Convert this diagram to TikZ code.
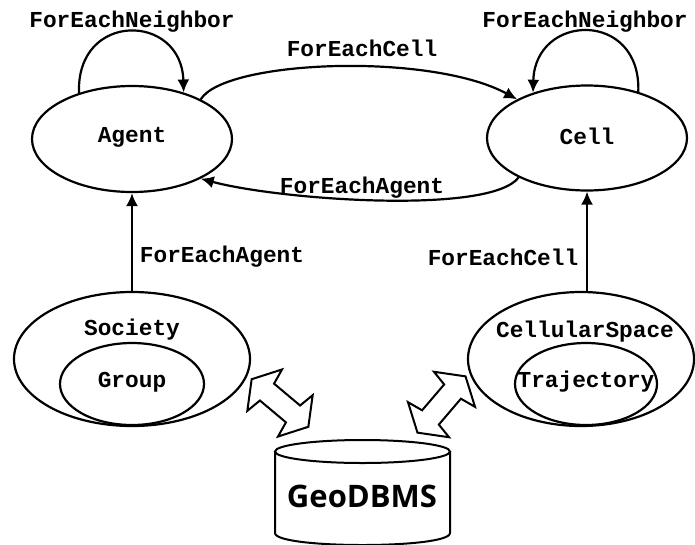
\documentclass[tikz,border=0pt]{standalone}
\usepackage{fontspec}
\setmonofont{Liberation Mono}
\newfontfamily\geofont{Open Sans}
\usetikzlibrary{shapes.geometric,arrows.meta}
\tikzset{
  lbl/.style={font=\ttfamily\bfseries\fontsize{22.8}{26}\selectfont, inner sep=0pt},
  ell/.style={ellipse, draw, line width=2.2pt, inner sep=0pt},
  conn/.style={line width=2.2pt, -{Latex[length=13pt,width=12pt]}},
  dblarrow/.style={draw, line width=2pt, fill=white, line join=miter},
}
\begin{document}
\begin{tikzpicture}[x=1pt,y=-1pt]
\useasboundingbox (0,0) rectangle (695,544);
\clip (0,0) rectangle (695,544);
\fill[white] (0,0) rectangle (695,544);
% main ellipses
\node[ell, minimum width=200pt, minimum height=106pt] (agent) at (132,139) {};
\node[lbl] (agentT) at (132,137) {Agent};
\node[ell, minimum width=200pt, minimum height=105pt] (cell) at (587,138) {};
\node[lbl] (cellT) at (587,136) {Cell};
\node[ell, minimum width=236pt, minimum height=134pt] (society) at (132,359) {};
\node[lbl] (societyT) at (132,330) {Society};
\node[ell, minimum width=144pt, minimum height=82pt] (group) at (132,384) {};
\node[lbl] (groupT) at (132,382) {Group};
\node[ell, minimum width=226pt, minimum height=134pt] (cspace) at (581,359) {};
\node[lbl] (cspaceT) at (585,332) {CellularSpace};
\node[ell, minimum width=142pt, minimum height=82pt] (traj) at (586,384) {};
\node[lbl] (trajT) at (586,382) {Trajectory};
% loops
\draw[conn] (agent.139) .. controls +(-3,-82) and +(-2,-80) .. (agent.42);
\node[lbl] (nbA) at (132,22) {ForEachNeighbor};
\draw[conn] (cell.42.6) .. controls +(3,-82) and +(2,-80) .. (cell.140);
\node[lbl] (nbC) at (585,22) {ForEachNeighbor};
% agent <-> cell
\draw[conn] (agent.30) .. controls (225,60) and (430,52) .. (cell.151);
\node[lbl] (fecTop) at (362,48) {ForEachCell};
\draw[conn] (cell.210) .. controls (490,215) and (280,200) .. (agent.330);
\node[lbl] (feaMid) at (362,188) {ForEachAgent};
% vertical
\draw[conn] (society.north) -- (agent.south);
\node[lbl] (feaV) at (222,257) {ForEachAgent};
\draw[conn] (cspace.north -| cell.south) -- (cell.south);
\node[lbl] (fecV) at (503,257) {ForEachCell};
% database
\draw[line width=2pt] (275,451.5) -- (275,533) .. controls (275,549) and (450,549) .. (450,533) -- (450,451.5);
\draw[line width=2pt] (362.5,451.5) ellipse [x radius=87.5, y radius=11.5];
\node[inner sep=0pt, font=\geofont\bfseries\fontsize{31}{36}\selectfont] (db) at (362,496) {GeoDBMS};
% double arrows
\begin{scope}[shift={(280,403)}, rotate=-40]
\draw[dblarrow] (37,0) -- (20,27) -- (17,11) -- (-17,11) -- (-20,27) -- (-37,0)
  -- (-20,-27) -- (-17,-11) -- (17,-11) -- (20,-27) -- cycle;
\end{scope}
\begin{scope}[shift={(441.5,404.5)}, rotate=49.5]
\draw[dblarrow] (37,0) -- (20,27) -- (17,11) -- (-17,11) -- (-20,27) -- (-37,0)
  -- (-20,-27) -- (-17,-11) -- (17,-11) -- (20,-27) -- cycle;
\end{scope}
\end{tikzpicture}
\end{document}
